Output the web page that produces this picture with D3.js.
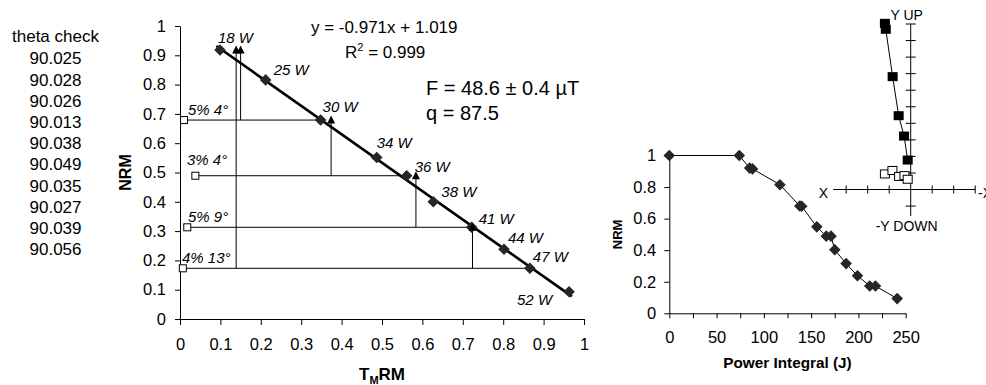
<!DOCTYPE html>
<html>
<head>
<meta charset="utf-8">
<script src="https://cdn.jsdelivr.net/npm/d3@7"></script>
<style>
  body { margin: 0; background: #fff; }
  svg { display: block; font-family: "Liberation Sans", Arial, sans-serif; }
  .domain, .tick line { stroke: #000; }
  .tick text { fill: #000; }
</style>
</head>
<body>
<script>
// Arai plot (NRM remaining vs TRM gained), steps in microwave power
const steps = ['18 W', '25 W', '30 W', '34 W', '36 W', '38 W', '41 W', '44 W', '47 W', '52 W'];
const trm = [0.099, 0.212, 0.348, 0.487, 0.561, 0.627, 0.722, 0.802, 0.866, 0.963];
const nrm = [0.918, 0.816, 0.679, 0.551, 0.489, 0.400, 0.313, 0.238, 0.173, 0.093];
const fitSlope = -0.971;
const fitIntercept = 1.019;
const fitRange = [0.09, 0.97];

// pTRM checks: x of check, step it sits on, step its line drops to
const checkX = [0.139, 0.150, 0.374, 0.584, 0.724];
const checkFrom = [0, 0, 2, 4, 6];
const checkTo = [8, 2, 4, 6, 8];

// tail checks
const tailX = [0.010, 0.038, 0.018, 0.007];
const tailStep = [2, 4, 6, 8];
const tailLabel = ['5% 4°', '3% 4°', '5% 9°', '4% 13°'];

const thetaCheck = ['90.025', '90.028', '90.026', '90.013', '90.038', '90.049', '90.035', '90.027', '90.039', '90.056'];

// demagnetisation curve
const powerIntegral = [0, 74, 85, 88, 117, 138, 140, 156, 166, 171, 175, 187, 199, 212, 218, 241];
const nrmDemag = [1, 1, 0.92, 0.915, 0.815, 0.68, 0.678, 0.548, 0.489, 0.489, 0.403, 0.315, 0.238, 0.173, 0.173, 0.093];

// vector plot inset (tick units)
const zijFilledX = [-1.2, -1.16, -0.84, -0.56, -0.31, -0.14];
const zijFilledY = [10.04, 9.68, 6.82, 4.46, 3.23, 1.78];
const zijOpenX = [-1.2, -0.85, -0.54, -0.29, -0.14];
const zijOpenY = [0.94, 1.15, 0.79, 0.84, 0.62];

const width = 986;
const height = 385;
const fmt = d => String(+d.toFixed(1));

const svg = d3.select('body').append('svg')
  .attr('width', width)
  .attr('height', height);

svg.append('rect').attr('width', width).attr('height', height).attr('fill', '#fff');

const diamond = r => `M0,${-r}L${r},0L0,${r}L${-r},0Z`;

// ---------- theta check column
const theta = svg.append('g').attr('font-size', 17).attr('text-anchor', 'middle');
theta.append('text').attr('x', 55.5).attr('y', 42).text('theta check');
thetaCheck.forEach((t, i) => {
  theta.append('text').attr('x', 55.5).attr('y', 64.3 + i * 21.2).text(t);
});

// ---------- Arai plot
const x = d3.scaleLinear().domain([0, 1]).range([180, 584]);
const y = d3.scaleLinear().domain([0, 1]).range([319, 26]);

svg.append('g')
  .attr('transform', `translate(0, ${y(0)})`)
  .call(d3.axisBottom(x).tickValues(d3.range(0, 1.01, 0.1)).tickFormat(fmt)
    .tickSize(6).tickPadding(13).tickSizeOuter(0))
  .attr('font-size', 16.5).attr('font-family', null);

svg.append('g')
  .attr('transform', `translate(${x(0)}, 0)`)
  .call(d3.axisLeft(y).tickValues(d3.range(0, 1.01, 0.1)).tickFormat(fmt)
    .tickSize(5).tickPadding(9).tickSizeOuter(0))
  .attr('font-size', 16.5).attr('font-family', null);

const titleX = svg.append('text')
  .attr('x', 382).attr('y', 380)
  .attr('text-anchor', 'middle').attr('font-weight', 'bold').attr('font-size', 17);
titleX.append('tspan').text('T');
titleX.append('tspan').attr('font-size', 11).attr('dy', 4).text('M');
titleX.append('tspan').attr('dy', -4).text('RM');

svg.append('text')
  .attr('transform', `translate(131, ${(y(0) + y(1)) / 2}) rotate(-90)`)
  .attr('text-anchor', 'middle').attr('font-weight', 'bold').attr('font-size', 16)
  .text('NRM');

// horizontal tail lines
const thin = svg.append('g').attr('stroke', '#000').attr('stroke-width', 1).attr('fill', 'none');
tailX.forEach((tx, i) => {
  const s = tailStep[i];
  thin.append('line')
    .attr('x1', x(tx)).attr('x2', x(trm[s]))
    .attr('y1', y(nrm[s])).attr('y2', y(nrm[s]));
});
// vertical check lines
checkX.forEach((cx, i) => {
  thin.append('line')
    .attr('x1', x(cx)).attr('x2', x(cx))
    .attr('y1', y(nrm[checkFrom[i]])).attr('y2', y(nrm[checkTo[i]]));
});

// fit line
svg.append('line')
  .attr('x1', x(fitRange[0])).attr('y1', y(fitSlope * fitRange[0] + fitIntercept))
  .attr('x2', x(fitRange[1])).attr('y2', y(fitSlope * fitRange[1] + fitIntercept))
  .attr('stroke', '#000').attr('stroke-width', 2.6);

// diamonds
svg.append('g').selectAll('path')
  .data(trm)
  .enter()
  .append('path')
  .attr('d', diamond(5.8))
  .attr('transform', (d, i) => `translate(${x(d)}, ${y(nrm[i])})`)
  .attr('fill', '#262626');

// triangles
svg.append('g').selectAll('path')
  .data(checkX)
  .enter()
  .append('path')
  .attr('d', 'M0,-4.5L4,3.5L-4,3.5Z')
  .attr('transform', (d, i) => `translate(${x(d)}, ${y(nrm[checkFrom[i]])})`)
  .attr('fill', '#000');

// tail squares
svg.append('g').selectAll('rect')
  .data(tailX)
  .enter()
  .append('rect')
  .attr('x', d => x(d) - 3.5)
  .attr('y', (d, i) => y(nrm[tailStep[i]]) - 3.5)
  .attr('width', 7).attr('height', 7)
  .attr('fill', '#fff').attr('stroke', '#000').attr('stroke-width', 1);

const tailLabelX = [188, 187, 188, 182];
svg.append('g').attr('font-size', 15).attr('font-style', 'italic')
  .selectAll('text')
  .data(tailLabel)
  .enter()
  .append('text')
  .attr('x', (d, i) => tailLabelX[i])
  .attr('y', (d, i) => y(nrm[tailStep[i]]) - (i === 1 ? 11 : 5))
  .text(d => d);

// step labels, nudged off the diamonds
const nudge = [[-2, -7], [8, -5], [2, -8], [0, -10], [8, -4], [8, -5], [7, -3], [4, -6], [3, -6], [-17, 13]];
svg.append('g').attr('font-size', 15).attr('font-style', 'italic')
  .selectAll('text')
  .data(steps)
  .enter()
  .append('text')
  .attr('x', (d, i) => x(trm[i]) + nudge[i][0])
  .attr('y', (d, i) => y(nrm[i]) + nudge[i][1])
  .attr('text-anchor', (d, i) => (i === steps.length - 1 ? 'end' : 'start'))
  .text(d => d);

// equation and result
svg.append('text').attr('x', 311).attr('y', 33).attr('font-size', 17)
  .text(`y = ${fitSlope}x + ${fitIntercept}`);
const r2 = svg.append('text').attr('x', 345).attr('y', 57.5).attr('font-size', 17);
r2.append('tspan').text('R');
r2.append('tspan').attr('font-size', 11).attr('dy', -7).text('2');
r2.append('tspan').attr('dy', 7).text(' = 0.999');

svg.append('text').attr('x', 426).attr('y', 94.5).attr('font-size', 20).text('F = 48.6 ± 0.4 µT');
svg.append('text').attr('x', 426).attr('y', 120).attr('font-size', 20).text('q = 87.5');

// ---------- demagnetisation plot
const px = d3.scaleLinear().domain([0, 250]).range([669.3, 905.7]);
const py = d3.scaleLinear().domain([0, 1]).range([313.3, 155.5]);

svg.append('g')
  .attr('transform', `translate(0, ${py(0)})`)
  .call(d3.axisBottom(px).tickValues(d3.range(0, 251, 25))
    .tickFormat(d => (d % 50 === 0 ? d : ''))
    .tickSize(5).tickPadding(12.7).tickSizeOuter(0))
  .attr('font-size', 16.5).attr('font-family', null);

svg.append('g')
  .attr('transform', `translate(${px(0)}, 0)`)
  .call(d3.axisLeft(py).tickValues(d3.range(0, 1.01, 0.2)).tickFormat(fmt)
    .tickSize(5).tickPadding(8).tickSizeOuter(0))
  .attr('font-size', 16.5).attr('font-family', null);

svg.append('text')
  .attr('x', (px(0) + px(250)) / 2).attr('y', 368)
  .attr('text-anchor', 'middle').attr('font-weight', 'bold').attr('font-size', 15.3)
  .text('Power Integral (J)');

svg.append('text')
  .attr('transform', `translate(622, ${(py(0) + py(1)) / 2}) rotate(-90)`)
  .attr('text-anchor', 'middle').attr('font-weight', 'bold').attr('font-size', 13)
  .text('NRM');

const demagLine = d3.line()
  .x((d, i) => px(powerIntegral[i]))
  .y(d => py(d));

svg.append('path')
  .datum(nrmDemag)
  .attr('d', demagLine)
  .attr('fill', 'none').attr('stroke', '#000').attr('stroke-width', 1);

svg.append('g').selectAll('path')
  .data(nrmDemag)
  .enter()
  .append('path')
  .attr('d', diamond(5.8))
  .attr('transform', (d, i) => `translate(${px(powerIntegral[i])}, ${py(d)})`)
  .attr('fill', '#262626');

// ---------- vector plot inset
const zx = d3.scaleLinear().domain([-3.6, 3]).range([833.3, 975.2]);
const zy = d3.scaleLinear().domain([-1.6, 10]).range([216, 24]);

const zAxes = svg.append('g').attr('stroke', '#000').attr('stroke-width', 1);
zAxes.append('line').attr('x1', zx(-3.6)).attr('x2', zx(3)).attr('y1', zy(0)).attr('y2', zy(0));
zAxes.append('line').attr('x1', zx(0)).attr('x2', zx(0)).attr('y1', zy(10)).attr('y2', zy(-1.6));
[-3, -2, -1, 1, 2, 3].forEach((t) => {
  zAxes.append('line').attr('x1', zx(t)).attr('x2', zx(t)).attr('y1', zy(0) - 4).attr('y2', zy(0) + 4);
});
[-1, 1, 2, 3, 4, 5, 6, 7, 8, 9, 10].forEach((t) => {
  zAxes.append('line').attr('x1', zx(0) - 5).attr('x2', zx(0) + 5).attr('y1', zy(t)).attr('y2', zy(t));
});

const zLabels = svg.append('g').attr('font-size', 14);
zLabels.append('text').attr('x', zx(0) - 4).attr('y', 20).attr('text-anchor', 'middle').text('Y UP');
zLabels.append('text').attr('x', 828).attr('y', 198).attr('text-anchor', 'end').text('X');
zLabels.append('text').attr('x', 978).attr('y', 198).text('-X');
zLabels.append('text').attr('x', zx(0) - 4).attr('y', 231).attr('text-anchor', 'middle').text('-Y DOWN');

const zLine = (xs, ys) => d3.line().x((d, i) => zx(xs[i])).y(d => zy(d))(ys);

svg.append('path').attr('d', zLine(zijOpenX, zijOpenY))
  .attr('fill', 'none').attr('stroke', '#000').attr('stroke-width', 1);
svg.append('g').selectAll('rect')
  .data(zijOpenY)
  .enter()
  .append('rect')
  .attr('x', (d, i) => zx(zijOpenX[i]) - 4.5)
  .attr('y', d => zy(d) - 4)
  .attr('width', 9).attr('height', 8)
  .attr('fill', '#fff').attr('stroke', '#000').attr('stroke-width', 1);

svg.append('path').attr('d', zLine(zijFilledX, zijFilledY))
  .attr('fill', 'none').attr('stroke', '#000').attr('stroke-width', 1);
svg.append('g').selectAll('rect')
  .data(zijFilledY)
  .enter()
  .append('rect')
  .attr('x', (d, i) => zx(zijFilledX[i]) - 5)
  .attr('y', d => zy(d) - 4.5)
  .attr('width', 10).attr('height', 9)
  .attr('fill', '#000');
</script>
</body>
</html>
